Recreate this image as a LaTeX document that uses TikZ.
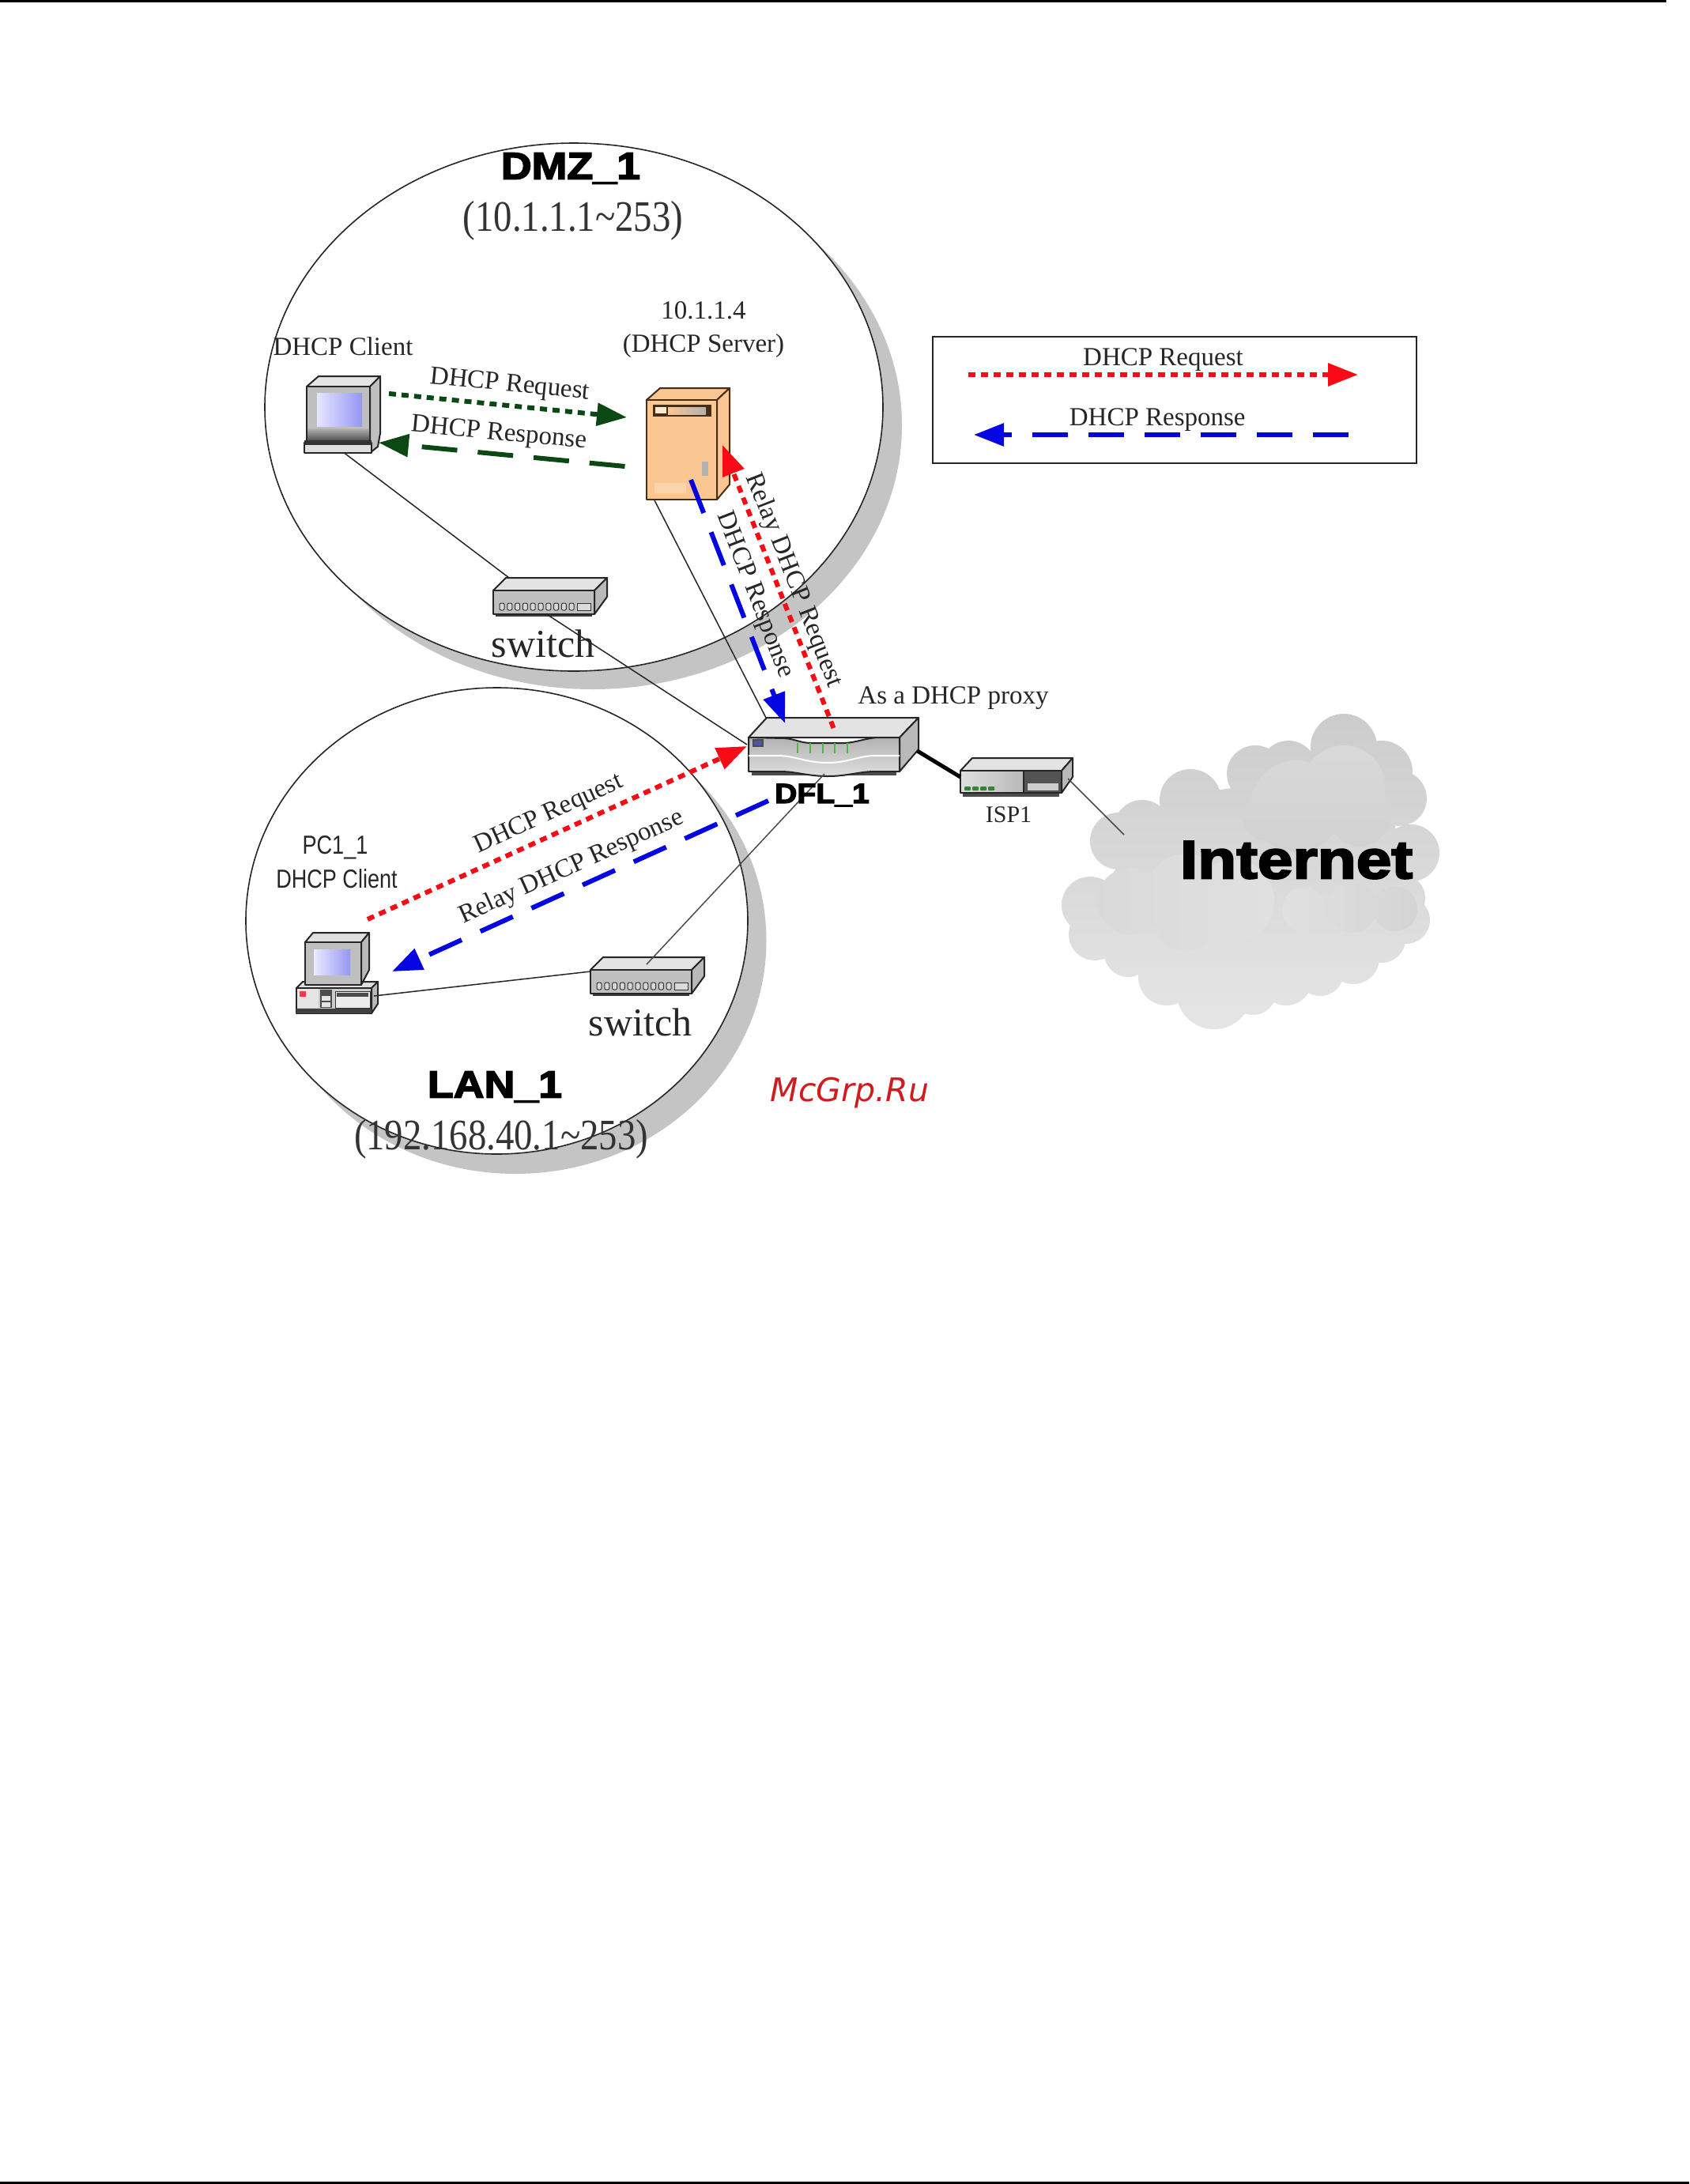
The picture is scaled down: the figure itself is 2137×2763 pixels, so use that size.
\documentclass[tikz,border=0pt]{standalone}
\usepackage{fontspec}
\usepackage{xcolor}
\usetikzlibrary{arrows.meta,positioning,calc}
\setmainfont{Liberation Serif}
\newfontfamily\tallfont[FakeStretch=0.85]{Liberation Serif}
\newfontfamily\narrowfont[FakeStretch=0.82]{Liberation Sans}
\newfontfamily\blackfont[FakeStretch=1.12,BoldFeatures={FakeBold=3.5}]{Liberation Sans}
\newfontfamily\widefont[FakeStretch=1.18,BoldFeatures={FakeBold=3.5}]{Liberation Sans}
\newfontfamily\markfont{DejaVu Sans}
\newcommand{\px}[1]{\fontsize{#1}{#1}\selectfont}
\definecolor{reqred}{RGB}{250,10,20}
\definecolor{respblue}{RGB}{5,5,225}
\definecolor{darkgreen}{RGB}{12,72,20}
\definecolor{shadowgray}{RGB}{196,196,196}
\definecolor{serverpeach}{RGB}{250,198,145}
\definecolor{serverline}{RGB}{70,45,20}
\definecolor{screenblue}{RGB}{150,150,245}
\definecolor{markred}{RGB}{208,28,31}
\tikzset{
  pics/switchicon/.style={code={
    \filldraw[icon, fill=gray!22] (0,0) -- (16,-16) -- (144,-16) -- (128,0) -- cycle;
    \filldraw[icon, fill=gray!55] (128,0) -- (144,-16) -- (144,8) -- (128,30) -- cycle;
    \fill[gray!45!black] (3,30) rectangle (125,33);
    \filldraw[icon, fill=gray!50] (0,0) rectangle (128,30);
    \foreach \i in {0,...,9}
      \filldraw[line width=1pt, draw=black!80, fill=gray!30, rounded corners=2pt] ({8+9.8*\i},16) rectangle +(6,9);
    \filldraw[line width=1pt, draw=black!80, fill=gray!30] (106,16) rectangle (123,25);
    \coordinate (-back) at (20,-16);
    \coordinate (-base) at (69,31);
    \coordinate (-left) at (0,2);
    \coordinate (-top) at (71,-7);
  }},
  pics/monitorpc/.style={code={
    \filldraw[icon, fill=gray!20] (0,0) -- (15,-13) -- (93,-13) -- (80,0) -- cycle;
    \filldraw[icon, fill=gray!50] (80,0) -- (93,-13) -- (93,59) -- (90,76) -- (80,84) -- cycle;
    \filldraw[icon, fill=gray!50] (0,0) rectangle (80,68);
    \shade[bottom color=gray!70!black, top color=gray!60] (1,53) rectangle (79,67);
    \shade[left color=blue!10, right color=screenblue] (13,8) rectangle (70,50);
    \filldraw[icon, fill=gray!25] (-3,71) rectangle (82,84);
    \fill[black!80] (-3,68) rectangle (82,74);
    \coordinate (-base) at (47.5,84);
    \coordinate (-right) at (92,70);
  }},
  pics/desktoppc/.style={code={
    \filldraw[icon, fill=gray!25] (-11,58) -- (-3,50) -- (92,50) -- (84,58) -- cycle;
    \filldraw[icon, fill=gray!55] (84,58) -- (92,50) -- (92,78) -- (84,90) -- cycle;
    \filldraw[icon, fill=gray!40] (-11,58) rectangle (84,90);
    \fill[black!75] (-11,84) rectangle (84,90);
    \fill[gray!20] (-10,59) rectangle (17,83);
    \fill[reqred!80] (-7,62) rectangle (1,69);
    \fill[black!70] (19,60) rectangle (34,83);
    \fill[gray!20] (21,68) rectangle (32,74);
    \fill[gray!20] (21,76) rectangle (32,82);
    \filldraw[line width=1pt, draw=black!80, fill=gray!15] (38,62) rectangle (82,83);
    \fill[black!70] (40,64) rectangle (80,69);
    \filldraw[icon, fill=gray!25] (0,0) -- (10,-12) -- (81,-12) -- (71,0) -- cycle;
    \filldraw[icon, fill=gray!55] (71,0) -- (81,-12) -- (81,35) -- (71,54) -- cycle;
    \filldraw[icon, fill=gray!50] (0,0) rectangle (71,54);
    \shade[left color=blue!8, right color=screenblue] (11,9) rectangle (57,41);
    \coordinate (-right) at (87,68);
  }},
  pics/servericon/.style={code={
    \filldraw[serverbody] (0,0) -- (17,-15) -- (105,-15) -- (89,0) -- cycle;
    \filldraw[serverbody] (89,0) -- (105,-15) -- (105,107) -- (89,126) -- cycle;
    \filldraw[serverbody] (0,0) rectangle (89,126);
    \fill[serverline] (8,6) rectangle (82,21);
    \shade[left color=serverpeach, right color=gray!60] (27,9) rectangle (75,18);
    \fill[serverpeach!40] (11,9) rectangle (25,17);
    \fill[white, opacity=.25] (10,105) rectangle (50,118);
    \fill[gray!60] (70,78) rectangle (78,96);
    \coordinate (-base) at (10,127);
  }},
  pics/routericon/.style={code={
    \filldraw[icon, fill=gray!22] (0,0) -- (23,-25) -- (215,-25) -- (191,0) -- cycle;
    \filldraw[icon, fill=gray!55] (191,0) -- (215,-25) -- (215,15) -- (191,43) -- cycle;
    \fill[black!70] (4,43) rectangle (187,48);
    \filldraw[icon, top color=gray!60, bottom color=gray!25]
      (0,0) -- (45,1) .. controls (60,2) and (65,7) .. (80,7) -- (120,7)
      .. controls (135,7) and (150,0) .. (165,0) -- (191,0) -- (191,43) -- (160,43)
      .. controls (140,43) and (125,49) .. (100,49)
      .. controls (75,49) and (60,43) .. (40,43) -- (0,43) -- cycle;
    \draw[white, line width=2pt] (0,23) -- (40,23) .. controls (60,24) and (75,32) .. (100,32)
      .. controls (125,32) and (140,23) .. (160,23) -- (191,23);
    \foreach \i in {62,78,94,109,125}
      \draw[green!60!black!70, line width=2pt] (\i,7) -- (\i,20);
    \filldraw[line width=1.5pt, draw=black!70, fill=blue!35!gray] (6,3) rectangle (18,11);
    \coordinate (-north) at (22,-25);
    \coordinate (-west) at (-2,9);
    \coordinate (-east) at (213.5,17);
    \coordinate (-south) at (96,46);
  }},
  pics/modemicon/.style={code={
    \filldraw[icon, fill=gray!22] (0,0) -- (15,-16) -- (142,-16) -- (128,0) -- cycle;
    \filldraw[icon, fill=gray!55] (128,0) -- (142,-16) -- (142,8) -- (128,28) -- cycle;
    \fill[black!70] (3,28) rectangle (125,33);
    \filldraw[icon, left color=gray!25, right color=gray!55] (0,0) rectangle (80,28);
    \filldraw[icon, fill=gray!65!black] (80,0) rectangle (128,28);
    \filldraw[line width=1pt, draw=black!70, fill=gray!40] (84,15) rectangle (124,25);
    \foreach \i in {9,19,29,39}
      \fill[green!40!black!80, rounded corners=1pt] (\i-4,20) rectangle (\i+4,25);
    \coordinate (-west) at (0,8);
    \coordinate (-east) at (136,10);
  }}
}

\begin{document}
\begin{tikzpicture}[
    x=1pt, y=-1pt,
    every node/.style={font=\px{33}, inner sep=0pt, text=black!85},
    icon/.style={line width=2pt, draw=black!85, line join=round},
    serverbody/.style={line width=2pt, draw=serverline, fill=serverpeach, line join=round},
    zone/.style={draw=black!85, line width=1.6pt, fill=white},
    link/.style={draw=black!85, line width=1.5pt},
    zonetitle/.style={font=\blackfont\bfseries\px{48}, text=black},
    zonerange/.style={font=\tallfont\px{55}, text=black!80},
    switchlabel/.style={font=\px{50}},
    dotted line/.style={line width=6pt, dash pattern=on 9pt off 7pt},
    dashed line/.style={line width=6pt, dash pattern=on 45pt off 26pt},
    request/.style={dotted line, reqred, -{Triangle[length=38pt,width=28pt]}},
    response/.style={dashed line, respblue, -{Triangle[length=38pt,width=28pt]}},
    greenrequest/.style={dotted line, darkgreen, -{Triangle[length=38pt,width=28pt]}},
    greenresponse/.style={dashed line, darkgreen, -{Triangle[length=38pt,width=28pt]}},
    tag/.style={midway, above=8pt, sloped, solid}
]
\useasboundingbox (0,0) rectangle (2137,2763);
\fill[white] (0,0) rectangle (2137,2763);

% Page rules
\fill[black] (0,0) rectangle (2108,3);
\fill[black] (0,2760) rectangle (2137,2763);

% Zones with their shadows
\fill[shadowgray] (750,538) ellipse (391pt and 334pt);
\draw[zone] (726,515) ellipse (391pt and 334pt);
\fill[shadowgray] (652,1190) ellipse (317.5pt and 295pt);
\draw[zone] (628.5,1165) ellipse (317.5pt and 295pt);

% Internet cloud
\begin{scope}
  \clip \foreach \cx/\cy/\cr in {1379/1145/36,1415/1064/36,1445/1048/36,1506/1012/39,1588/979/36,1630/973/36,1700/945/42,1748/976/39,1770/1010/35,1785/1079/36,1773/1136/30,1779/1164/30,1748/1188/30,1712/1212/33,1670/1230/30,1627/1239/33,1585/1254/30,1536/1254/48,1476/1236/36,1427/1206/30,1385/1182/33,1567/1127/130,1657/1067/110,1480/1150/85,1700/1130/85} {(\cx,\cy) circle (\cr pt)};
  \shade[top color=gray!40, bottom color=gray!20] (1340,900) rectangle (1830,1305);
\end{scope}
\begin{scope}
  \clip \foreach \cx/\cy/\cr in {1430/1140/42,1500/1130/50,1560/1140/52,1500/1165/38} {(\cx,\cy) circle (\cr pt)};
  \shade[left color=gray!30, right color=gray!24] (1370,1080) rectangle (1620,1205);
\end{scope}
\begin{scope}
  \clip \foreach \cx/\cy/\cr in {1640/1020/58,1700/995/52,1600/1035/28,1720/1030/40} {(\cx,\cy) circle (\cr pt)};
  \shade[top color=gray!30, bottom color=gray!36] (1570,940) rectangle (1760,1080);
\end{scope}
\begin{scope}
  \clip \foreach \cx/\cy/\cr in {1650/1150/28,1710/1148/32,1765/1150/28} {(\cx,\cy) circle (\cr pt)};
  \shade[left color=gray!24, right color=gray!34] (1620,1115) rectangle (1795,1185);
\end{scope}

% Named ends of the connectors
\coordinate (cloudedge) at (1422,1056);
\coordinate (dmzreqstart) at (492,498);
\coordinate (dmzreqend) at (793,528);
\coordinate (dmzrespstart) at (790.5,590);
\coordinate (dmzrespend) at (479,560);
\coordinate (relayreqstart) at (1054.5,921);
\coordinate (relayreqend) at (914,563);
\coordinate (proxyrespstart) at (874,607);
\coordinate (proxyrespend) at (993,915);
\coordinate (lanreqstart) at (465,1163);
\coordinate (lanreqend) at (945,944);
\coordinate (lanrespstart) at (972,1013);
\coordinate (lanrespend) at (496,1229);
\coordinate (legendreqstart) at (1225,474);
\coordinate (legendreqend) at (1718,474);
\coordinate (legendrespstart) at (1706,550);
\coordinate (legendrespend) at (1232,550);

% Devices
\pic (dmzpc) at (388,489) {monitorpc};
\pic (server) at (818,506) {servericon};
\pic (dmzswitch) at (624,747) {switchicon};
\pic (lanswitch) at (747,1227) {switchicon};
\pic (lanpc) at (386,1192) {desktoppc};
\pic (dfl) at (947,933) {routericon};
\pic (isp) at (1215,975) {modemicon};

% Cabling
\draw[link] (dmzpc-base) -- (dmzswitch-back);
\draw[link] (dmzswitch-base) -- (dfl-west);
\draw[link] (server-base) -- (dfl-north);
\draw[link] (lanpc-right) -- (lanswitch-left);
\draw[link, black!70] (dfl-south) -- (lanswitch-top);
\draw[line width=5pt] (dfl-east) -- (isp-west);
\draw[link, black!70] (isp-east) -- (cloudedge);

% Legend box
\node[draw=black!85, line width=2pt, minimum width=612pt, minimum height=160pt, anchor=north west] (legend) at (1179,425) {};
\draw[request] (legendreqstart) -- node[tag, above=1pt] {DHCP Request} (legendreqend);
\draw[response] (legendrespstart) -- node[tag, above=1pt, pos=.51] {DHCP Response} (legendrespend);

% DHCP traffic
\draw[greenrequest] (dmzreqstart) -- node[tag] {DHCP Request} (dmzreqend);
\draw[greenresponse] (dmzrespstart) -- node[tag, pos=.52] {DHCP Response} (dmzrespend);
\draw[request] (relayreqstart) -- node[tag, above=3pt] {Relay DHCP Request} (relayreqend);
\draw[response] (proxyrespstart) -- node[tag, above=5pt] {DHCP Response} (proxyrespend);
\draw[request] (lanreqstart) -- node[tag] {DHCP Request} (lanreqend);
\draw[response] (lanrespstart) -- node[tag] {Relay DHCP Response} (lanrespend);

% Zone and device labels
\node[zonetitle] (dmztitle) at (722,213) {DMZ\_1};
\node[zonerange] (dmzrange) at (725,279) {(10.1.1.1\char`~253)};
\node (serverip) at (890,393) {10.1.1.4};
\node[below=18pt of serverip] (serverrole) {(DHCP Server)};
\node (dmzclient) at (434,438) {DHCP Client};
\node[switchlabel] (dmzswitchlabel) at (687,814) {switch};
\node[switchlabel] (lanswitchlabel) at (810,1293) {switch};
\node[zonetitle] (lantitle) at (626,1375) {LAN\_1};
\node[zonerange] (lanrange) at (634,1441) {(192.168.40.1\char`~253)};
\node[font=\narrowfont\px{33}] (lanpcname) at (424,1072) {PC1\_1};
\node[font=\narrowfont\px{33}] (lanclient) at (426,1112) {DHCP Client};
\node (proxylabel) at (1206,883) {As a DHCP proxy};
\node[font=\blackfont\bfseries\px{35}, text=black] (dfllabel) at (1040,1006) {DFL\_1};
\node[font=\px{30}] (isplabel) at (1276,1031) {ISP1};
\node[font=\widefont\bfseries\px{68}, text=black] (internet) at (1640,1088) {Internet};
\node[font=\markfont\itshape\px{41}, text=markred] (watermark) at (1075,1383) {McGrp.Ru};

\end{tikzpicture}
\end{document}
